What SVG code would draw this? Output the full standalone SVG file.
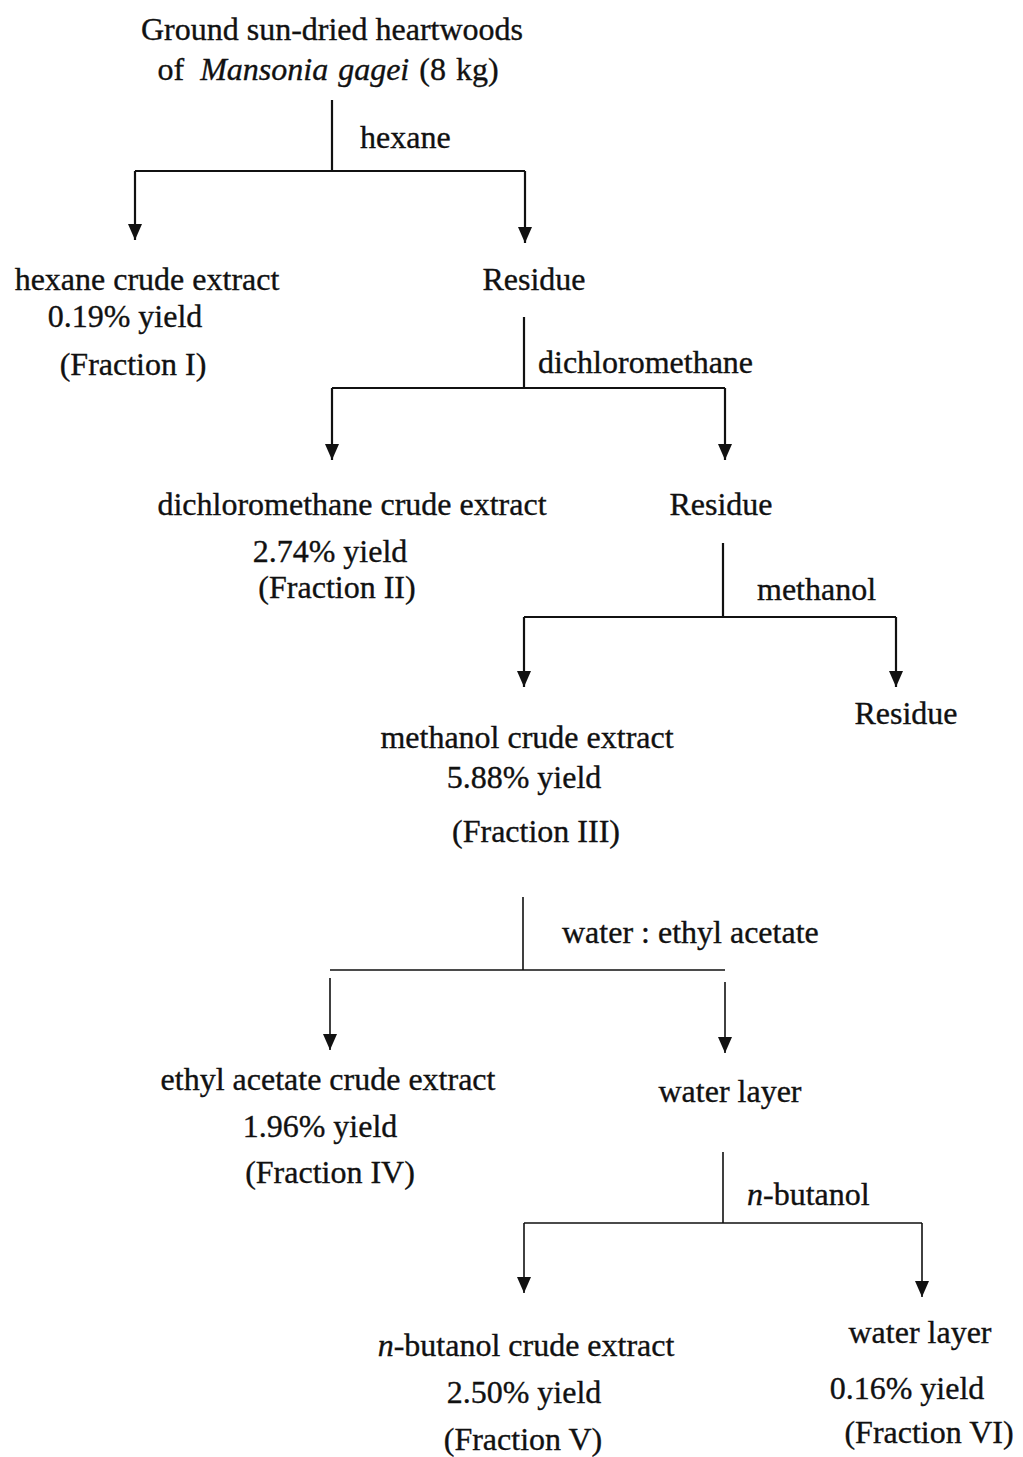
<svg xmlns="http://www.w3.org/2000/svg" width="1023" height="1457" viewBox="0 0 1023 1457">
<style>
text{font-family:"Liberation Serif","Times New Roman",serif;font-size:32px;fill:#111;stroke:#111;stroke-width:0.35;}
.c{text-anchor:middle;}
.i{font-style:italic;}
.ln{stroke:#111;stroke-width:2.2;fill:none;}
.thin{stroke-width:1.6;}
</style>
<defs>
<marker id="ah" viewBox="0 0 16 14" refX="16" refY="7" markerWidth="16" markerHeight="14" markerUnits="userSpaceOnUse" orient="auto">
<path d="M0,0 L16,7 L0,14 z" fill="#111"/>
</marker>
</defs>
<rect width="1023" height="1457" fill="#fff"/>
<g id="connectors">
<path class="ln" d="M332,100 V171 M135,171 H525"/>
<path class="ln" d="M135,171 V240" marker-end="url(#ah)"/>
<path class="ln" d="M525,171 V243" marker-end="url(#ah)"/>
<text x="360" y="148">hexane</text>
<path class="ln" d="M524,317 V388 M332,388 H725"/>
<path class="ln" d="M332,388 V460" marker-end="url(#ah)"/>
<path class="ln" d="M725,388 V460" marker-end="url(#ah)"/>
<text x="538" y="373">dichloromethane</text>
<path class="ln" d="M723,543 V617 M524,617 H896"/>
<path class="ln" d="M524,617 V687" marker-end="url(#ah)"/>
<path class="ln" d="M896,617 V687" marker-end="url(#ah)"/>
<text x="757" y="600">methanol</text>
<path class="ln thin" d="M523,897 V970 M330,970 H725"/>
<path class="ln thin" d="M330,978 V1050" marker-end="url(#ah)"/>
<path class="ln thin" d="M725,982 V1053" marker-end="url(#ah)"/>
<text x="562" y="943">water : ethyl acetate</text>
<path class="ln thin" d="M723,1152 V1223 M524,1223 H922"/>
<path class="ln thin" d="M524,1223 V1293" marker-end="url(#ah)"/>
<path class="ln thin" d="M922,1223 V1297" marker-end="url(#ah)"/>
<text x="747" y="1205"><tspan class="i">n</tspan>-butanol</text>
</g>
<g id="start">
<text class="c" x="332" y="40">Ground sun-dried heartwoods</text>
<text class="c" x="328" y="80" word-spacing="2">of <tspan dx="6" class="i">Mansonia gagei</tspan> (8 kg)</text>
</g>
<g id="fraction1">
<text class="c" x="147" y="290">hexane crude extract</text>
<text class="c" x="125" y="327">0.19% yield</text>
<text class="c" x="133" y="375">(Fraction I)</text>
</g>
<g id="residue1"><text class="c" x="534" y="290">Residue</text></g>
<g id="fraction2">
<text class="c" x="352" y="515">dichloromethane crude extract</text>
<text class="c" x="330" y="562">2.74% yield</text>
<text class="c" x="337" y="598">(Fraction II)</text>
</g>
<g id="residue2"><text class="c" x="721" y="515">Residue</text></g>
<g id="fraction3">
<text class="c" x="527" y="748">methanol crude extract</text>
<text class="c" x="524" y="788">5.88% yield</text>
<text class="c" x="536" y="842">(Fraction III)</text>
</g>
<g id="residue3"><text class="c" x="906" y="724">Residue</text></g>
<g id="fraction4">
<text class="c" x="328" y="1090">ethyl acetate crude extract</text>
<text class="c" x="320" y="1137">1.96% yield</text>
<text class="c" x="330" y="1183">(Fraction IV)</text>
</g>
<g id="waterlayer1"><text class="c" x="730" y="1102">water layer</text></g>
<g id="fraction5">
<text class="c" x="526" y="1356"><tspan class="i">n</tspan>-butanol crude extract</text>
<text class="c" x="524" y="1403">2.50% yield</text>
<text class="c" x="523" y="1450">(Fraction V)</text>
</g>
<g id="fraction6">
<text class="c" x="920" y="1343">water layer</text>
<text class="c" x="907" y="1399">0.16% yield</text>
<text class="c" x="929" y="1443">(Fraction VI)</text>
</g>
</svg>
